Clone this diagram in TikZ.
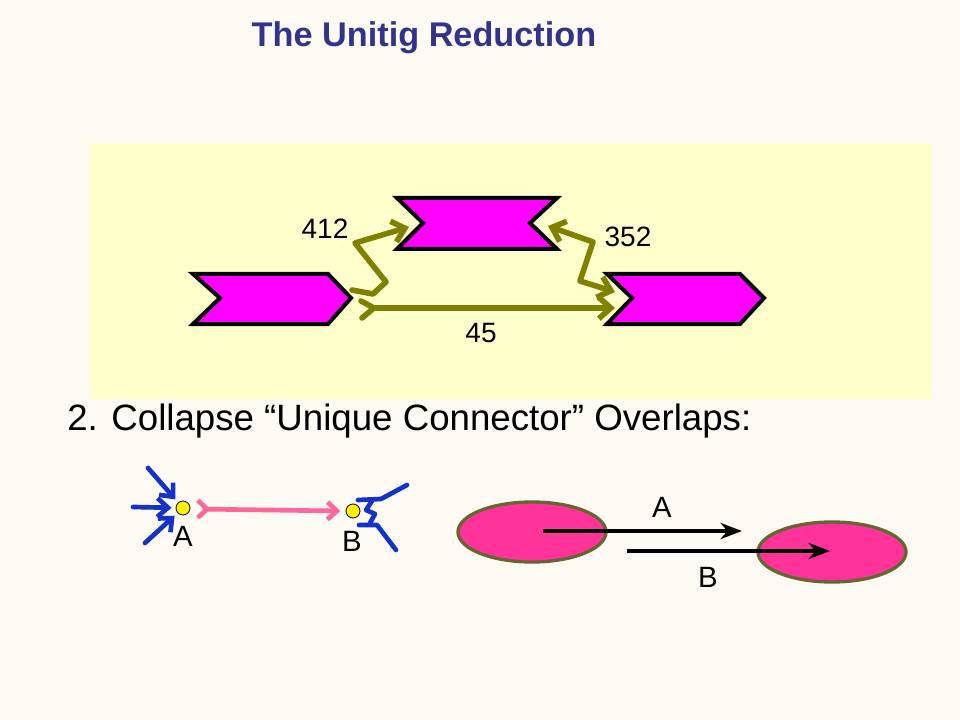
\documentclass[tikz,border=0pt]{standalone}
\usepackage{fontspec}
\setmainfont{Liberation Sans}
\usetikzlibrary{arrows.meta,shapes.geometric}
\definecolor{bgcream}{RGB}{252,250,243}
\definecolor{panelyellow}{RGB}{255,255,204}
\definecolor{titleblue}{RGB}{51,51,140}
\definecolor{olivegreen}{RGB}{128,128,0}
\definecolor{chevmag}{RGB}{255,0,255}
\definecolor{linkblue}{RGB}{20,50,200}
\definecolor{linkpink}{RGB}{255,102,153}
\definecolor{contigpink}{RGB}{255,51,153}
\definecolor{rimolive}{RGB}{102,102,51}
\tikzset{
  chev/.style={fill=chevmag, draw=black, line width=3pt, line join=miter},
  olink/.style={draw=olivegreen, line width=4.2pt, line cap=round, line join=round},
  blink/.style={draw=linkblue, line width=3.5pt, line cap=round, line join=round},
  num/.style={font=\fontsize{21}{25}\selectfont, inner sep=0pt},
  dot/.style={circle, fill=yellow, draw=black, line width=0.6pt, minimum size=10.5pt, inner sep=0pt},
  contig/.style={ellipse, fill=contigpink, draw=rimolive, line width=2.5pt, minimum width=111pt, minimum height=45pt, inner sep=0pt}
}

\begin{document}
\begin{tikzpicture}[x=0.75pt, y=-0.75pt]

    \fill[bgcream] (0,0) rectangle (960,720);
    \useasboundingbox (0,0) rectangle (960,720);
    \fill[panelyellow] (90,143) rectangle (932,399);

    \node (t) at (424,38) {\fontsize{25.7}{30}\selectfont\bfseries\color{titleblue}The Unitig Reduction};
    \node[anchor=west, inner sep=0pt] (s) at (67,421) {\fontsize{27.5}{32}\selectfont 2. Collapse “Unique Connector” Overlaps:};

    % unitigs
    \draw[chev] (193,274) -- (328,274) -- (351,298) -- (328,324) -- (193,324) -- (220,298) -- cycle;
    \draw[chev] (397,198) -- (557,198) -- (530,223) -- (557,249) -- (397,249) -- (423,223) -- cycle;
    \draw[chev] (607,274) -- (740,274) -- (764,298) -- (740,324) -- (607,324) -- (632,298) -- cycle;

    \coordinate (a) at (352,290);
    \coordinate (b) at (373,294);
    \coordinate (c) at (386,282);
    \coordinate (d) at (355,243);
    \coordinate (e) at (409,227);
    \coordinate (f) at (548,226);
    \coordinate (g) at (593,242);
    \coordinate (h) at (580,281);
    \coordinate (i) at (615,292);
    \coordinate (j) at (361,301);
    \coordinate (k) at (374,308);
    \coordinate (l) at (362,318);
    \coordinate (m) at (615,308);

    \draw [olink, -{Straight Barb[length=9pt,width=16pt]}] (a) -- (b) -- (c) -- (d) -- (e);
    \draw [olink, {Straight Barb[length=9pt,width=16pt]}-{Straight Barb[length=9pt,width=16pt]}] (f) -- (g) -- (h) -- (i);
    \draw [olink] (j) -- (k) -- (l);
    \draw [olink, -{Straight Barb[length=9pt,width=16pt]}] (k) -- (m);

    \node[num] (n) at (325,229) {412};
    \node[num] (o) at (628,237) {352};
    \node[num] (p) at (481,333) {45};

    % unique connector
    \node[dot] (A) at (183,508) {};
    \node[dot] (B) at (353,511) {};
    \node[num, font=\fontsize{22}{26}\selectfont] (la) at (183,536) {A};
    \node[num, font=\fontsize{22}{26}\selectfont] (lb) at (352,541) {B};

    \coordinate (q) at (148,468);
    \coordinate (r) at (133,507);
    \coordinate (u) at (145,543);
    \draw [blink, shorten >=3pt, -{Straight Barb[length=8pt,width=14pt]}] (q) -- (A);
    \draw [blink, shorten >=3pt, -{Straight Barb[length=8pt,width=14pt]}] (r) -- (A);
    \draw [blink, shorten >=3pt, -{Straight Barb[length=8pt,width=14pt]}] (u) -- (A);

    \draw [draw=linkpink, line width=3.5pt, line cap=round, {Straight Barb[reversed,length=7pt,width=13pt]}-{Straight Barb[length=7pt,width=13pt]}] (A.east) ++(5,1) -- ([xshift=-4pt]B.west);

    \coordinate (v) at (381,499);
    \coordinate (w) at (377,525);
    \draw [blink] (358,500) -- (v) -- (407,485);
    \draw [blink] (372,501) -- (366,510) -- (375,514) -- (370,523);
    \draw [blink] (359,525) -- (w) -- (396,550);

    % overlapping contigs
    \node[contig] (x) at (532,532) {};
    \node[contig] (y) at (832,552) {};
    \coordinate (x1) at (543,531);
    \coordinate (x2) at (742,531);
    \coordinate (y1) at (627,551);
    \coordinate (y2) at (830,551);
    \draw [line width=3.6pt, -{Stealth[length=16pt,width=12pt,inset=5pt]}] (x1) -- (x2);
    \draw [line width=3.6pt, -{Stealth[length=16pt,width=12pt,inset=5pt]}] (y1) -- (y2);
    \node[num, font=\fontsize{22}{26}\selectfont] (z1) at (662,507) {A};
    \node[num, font=\fontsize{22}{26}\selectfont] (z2) at (708,577) {B};

\end{tikzpicture}
\end{document}
